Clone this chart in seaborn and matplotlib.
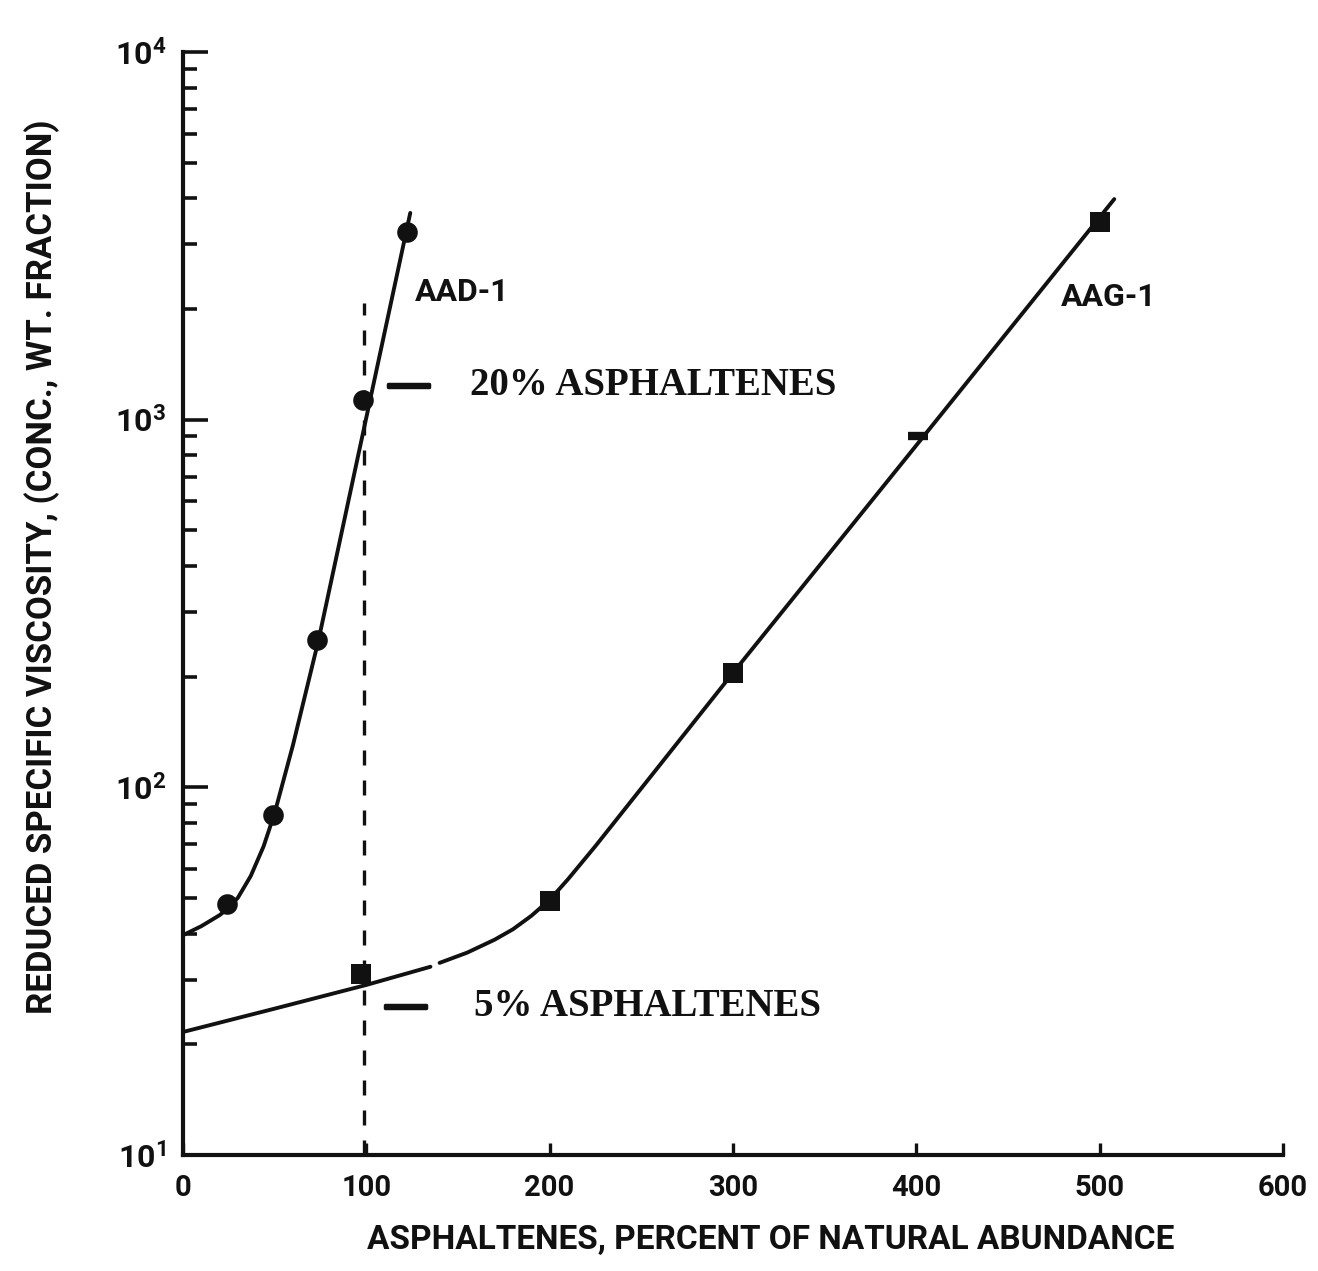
import numpy as np
import pandas as pd
import matplotlib
matplotlib.use("Agg")
import matplotlib.pyplot as plt
from matplotlib import ticker
from matplotlib import patheffects as pe
import seaborn as sns

# ---------------- data ----------------
aad_x = [24, 49, 73, 98, 122]
aad_y = [48, 84, 252, 1130, 3240]

aag_x = [97, 200, 300, 500]
aag_y = [31, 49, 205, 3450]
aag_odd_x = [401]
aag_odd_y = [905]

aad_curve_x = [0, 10, 20, 25, 30, 37, 44, 50, 60, 74, 124]
aad_curve_y = [39.6, 41.9, 44.9, 47.0, 50.1, 57.4, 69.1, 85.0, 130.2, 252, 3650]

aag_curve1_x = [0, 50, 100, 135]
aag_curve1_y = [21.6, 25.0, 29.0, 32.5]
aag_curve2_x = [140, 155, 170, 180, 190, 200, 210, 225, 300, 400, 508]
aag_curve2_y = [33.3, 35.5, 38.5, 41.1, 44.7, 49.4, 56.2, 69.2, 204.7, 851, 3980]

ref_x = [99, 99]
ref_y = [10, 2075]

x_ticks = [0, 100, 200, 300, 400, 500, 600]
y_ticks = [10, 100, 1000, 10000]
y_tick_labels = [r"$10^{1}$", r"$10^{2}$", r"$10^{3}$", r"$10^{4}$"]
series_labels = ["AAD-1", "AAG-1"]
note_labels = ["20% ASPHALTENES", "5% ASPHALTENES"]
x_label = "ASPHALTENES, PERCENT OF NATURAL ABUNDANCE"
y_label = "REDUCED SPECIFIC VISCOSITY, (CONC., WT. FRACTION)"

# ---------------- style ----------------
sns.set_theme(style="ticks")
SANS = "Roboto"
SERIF = "Liberation Serif"
plt.rcParams["font.family"] = [SANS, "DejaVu Sans"]
plt.rcParams["font.weight"] = "bold"
plt.rcParams["mathtext.fontset"] = "custom"
plt.rcParams["mathtext.rm"] = f"{SANS}:bold"
plt.rcParams["mathtext.it"] = f"{SANS}:bold"
plt.rcParams["mathtext.bf"] = f"{SANS}:bold"
plt.rcParams["mathtext.default"] = "bf"

INK = "#111111"
fig = plt.figure(figsize=(13.18, 12.71), dpi=100)
fig.patch.set_facecolor("white")
ax = fig.add_axes([0.1388, 0.0913, 0.8346, 0.8678])
ax.set_facecolor("white")
ax.set_yscale("log")

curves = pd.DataFrame({
    "x": aad_curve_x + aag_curve1_x + aag_curve2_x,
    "y": aad_curve_y + aag_curve1_y + aag_curve2_y,
    "seg": ["aad"] * len(aad_curve_x) + ["aag1"] * len(aag_curve1_x) + ["aag2"] * len(aag_curve2_x),
})
sns.lineplot(data=curves, x="x", y="y", units="seg", estimator=None, sort=False,
             color=INK, linewidth=2.8, ax=ax, legend=False)
for ln in ax.lines:
    ln.set_solid_joinstyle("round")
    ln.set_solid_capstyle("round")

ref = pd.DataFrame({"x": ref_x, "y": ref_y})
sns.lineplot(data=ref, x="x", y="y", estimator=None, sort=False, color=INK,
             linewidth=2.4, linestyle=(0, (4.5, 4.5)), ax=ax, legend=False)

sns.scatterplot(x=aad_x, y=aad_y, marker="o", s=220, color=INK, linewidth=0, ax=ax, zorder=4)
sns.scatterplot(x=aag_x, y=aag_y, marker="s", s=190, color=INK, linewidth=0, ax=ax, zorder=4)
sns.scatterplot(x=aag_odd_x, y=aag_odd_y, marker="_", s=200, color=INK, linewidth=6, ax=ax, zorder=4)

ax.set_xlim(0, 600)
ax.set_ylim(10, 10000)
ax.xaxis.set_major_locator(ticker.FixedLocator(x_ticks))
ax.xaxis.set_major_formatter(ticker.FixedFormatter([str(v) for v in x_ticks]))
ax.xaxis.set_minor_locator(ticker.NullLocator())
ax.yaxis.set_major_locator(ticker.FixedLocator(y_ticks))
ax.yaxis.set_major_formatter(ticker.FixedFormatter(y_tick_labels))
ax.yaxis.set_minor_locator(ticker.LogLocator(base=10, subs=range(2, 10), numticks=20))
ax.yaxis.set_minor_formatter(ticker.NullFormatter())

ax.tick_params(axis="y", which="major", direction="in", length=18, width=2.6, pad=12,
               labelsize=23, colors=INK)
ax.tick_params(axis="y", which="minor", direction="in", length=10, width=2.6, colors=INK)
ax.tick_params(axis="x", which="major", direction="in", length=9, width=2.4, pad=14,
               labelsize=21, colors=INK)
for lbl in ax.get_xticklabels():
    lbl.set_fontweight("bold")

sns.despine(ax=ax)
for side in ["left", "bottom"]:
    ax.spines[side].set_linewidth(3.0)
    ax.spines[side].set_color(INK)

ax.set_xlabel(x_label, fontsize=24, fontweight="bold", color=INK)
ax.set_ylabel(y_label, fontsize=25, fontweight="bold", color=INK)
ax.xaxis.set_label_coords(0.534, -0.077)
ax.xaxis.label.set_va("center")
ax.yaxis.set_label_coords(-0.128, 0.533)
ax.yaxis.label.set_va("center")

ax.text(126.4, 2223, series_labels[0], fontsize=23, fontweight="bold", va="center", ha="left", color=INK)
ax.text(479, 2152, series_labels[1], fontsize=23, fontweight="bold", va="center", ha="left", color=INK)

thick = [pe.withStroke(linewidth=2.5, foreground=INK)]
for dash_x, txt_x, yy, txt in [(112, 156.4, 1242, note_labels[0]), (110.6, 159, 25.3, note_labels[1])]:
    ax.text(dash_x, yy, "\u2014", family=SERIF, fontsize=29, fontweight="bold",
            va="center", ha="left", color=INK, path_effects=thick)
    ax.text(txt_x, yy, txt, family=SERIF, fontsize=28, fontweight="bold",
            va="center", ha="left", color=INK)

fig.savefig("out.png", dpi=100, facecolor="white")
